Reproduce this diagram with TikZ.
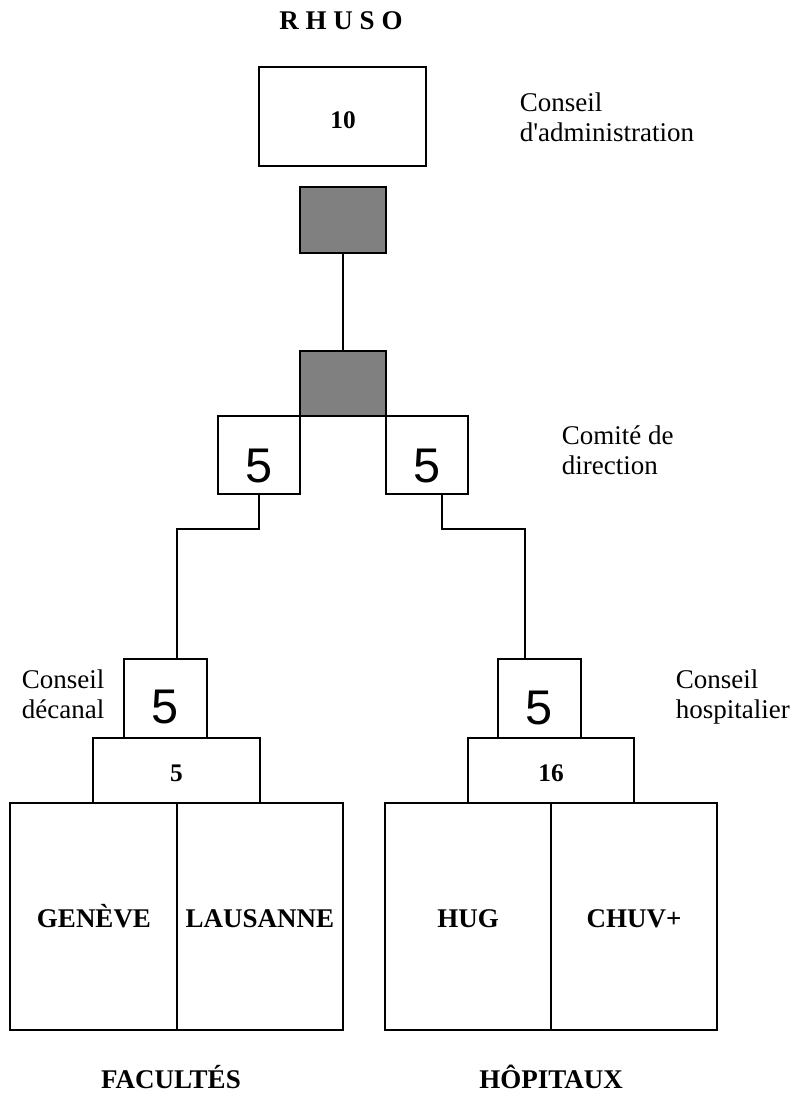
\documentclass[tikz,border=0pt]{standalone}
\usepackage{fontspec}
\setmainfont{Liberation Serif}
\newfontfamily\arialfont{Liberation Sans}
\usetikzlibrary{fit}
\definecolor{boxgray}{RGB}{128,128,128}
\begin{document}
\begin{tikzpicture}[x=0.75pt,y=-0.75pt,line width=1.2pt,
  box/.style={draw,inner sep=0pt,fill=white},
  graybox/.style={draw,inner sep=0pt,fill=boxgray},
  bignum/.style={font=\arialfont\fontsize{36.5}{36.5}\selectfont,anchor=base,inner sep=0pt},
  boldnum/.style={font=\bfseries\fontsize{19}{19}\selectfont,anchor=base,inner sep=0pt},
  boldlbl/.style={font=\bfseries\fontsize{20.25}{20.25}\selectfont,anchor=base,inner sep=0pt},
  note/.style={font=\fontsize{20.25}{23}\selectfont,align=left,anchor=north west,inner sep=0pt}]
\useasboundingbox (0,0) rectangle (793,1099);

% title
\node[boldlbl] (title) at (341,30) {R H U S O};

% Conseil d'administration
\node[box,fit={(259,67) (426,166)}] (ca) {};
\node[boldnum] (caN) at (343,128) {10};
\node[note] (caL) at (519,91.5) {Conseil\\d\textquotesingle administration};

% gray boxes
\node[graybox,fit={(300,187) (386,253)}] (g1) {};
\node[graybox,fit={(300,351) (386,416)}] (g2) {};

% Comite de direction
\node[box,fit={(218,416) (300,494)}] (cdL) {};
\node[box,fit={(386,416) (468,494)}] (cdR) {};
\node[bignum] (cdLN) at (259,482) {5};
\node[bignum] (cdRN) at (427,482) {5};
\node[note] (cdLbl) at (561,424.5) {Comité de\\direction};

% Conseil decanal / hospitalier
\node[box,fit={(124,659) (207,738)}] (decL) {};
\node[box,fit={(498,659) (581,738)}] (hosR) {};
\node[bignum] (decN) at (165.5,723) {5};
\node[bignum] (hosN) at (539.5,724) {5};
\node[note] (decLbl) at (21,668.5) {Conseil\\décanal};
\node[note] (hosLbl) at (675,668.5) {Conseil\\hospitalier};

% wide boxes
\node[box,fit={(93,738) (260,803)}] (facW) {};
\node[box,fit={(468,738) (634,803)}] (hopW) {};
\node[boldnum] (facWN) at (176.5,781) {5};
\node[boldnum] (hopWN) at (551,781) {16};

% big boxes
\node[box,fit={(10,803) (177,1030)}] (ge) {};
\node[box,fit={(177,803) (343,1030)}] (la) {};
\node[box,fit={(385,803) (551,1030)}] (hug) {};
\node[box,fit={(551,803) (717,1030)}] (chuv) {};
\node[boldlbl] (geN) at (94,927) {GENÈVE};
\node[boldlbl] (laN) at (260,927) {LAUSANNE};
\node[boldlbl] (hugN) at (468,927) {HUG};
\node[boldlbl] (chuvN) at (634,927) {CHUV+};

% bottom labels
\node[boldlbl] (fac) at (171,1088) {FACULTÉS};
\node[boldlbl] (hop) at (551,1088) {HÔPITAUX};

% connectors
\draw (g1.south) -- (g2.north);
\coordinate (jL) at (177,529);
\draw (cdL.south) |- (jL) -- (jL |- decL.north);
\coordinate (jR1) at (442,529);
\coordinate (jR2) at (525,529);
\draw (jR1 |- cdR.south) -- (jR1) -- (jR2) -- (jR2 |- hosR.north);
\end{tikzpicture}
\end{document}
